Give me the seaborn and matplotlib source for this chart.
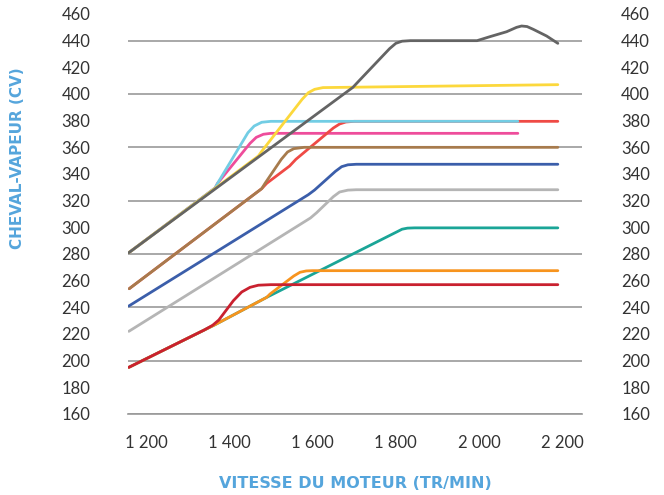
import matplotlib
matplotlib.use("Agg")
import matplotlib.pyplot as plt
import seaborn as sns

# courbes de puissance (tr/min -> ch)
rpm_dark_gray = [1159, 1697, 1712, 1785, 1800, 1815, 1835, 1995, 2026, 2066, 2090, 2102, 2115, 2130, 2162, 2189]
hp_dark_gray = [281, 405, 410, 434, 438, 439.6, 440, 440, 443, 446.7, 450, 451, 450.6, 448.5, 443.5, 438]

rpm_yellow = [1159, 1470, 1478, 1575, 1590, 1605, 1625, 2189]
hp_yellow = [281, 353.5, 357, 396, 401, 403.5, 404.8, 407]

rpm_cyan = [1159, 1366, 1372, 1445, 1460, 1478, 1500, 2093]
hp_cyan = [281, 329.5, 333, 371, 376, 378.8, 379.5, 379.5]

rpm_pink = [1159, 1366, 1372, 1450, 1465, 1482, 1500, 2093]
hp_pink = [281, 329.5, 333, 363, 367.5, 369.8, 370.5, 370.5]

rpm_red = [1160, 1478, 1490, 1545, 1560, 1650, 1665, 1680, 1700, 2189]
hp_red = [254, 329, 333, 346, 351, 374.5, 377.5, 379, 379.5, 379.5]

rpm_brown = [1160, 1478, 1486, 1525, 1540, 1555, 1580, 2189]
hp_brown = [254, 329, 333, 351, 356.5, 359, 360, 360]

rpm_blue = [1159, 1590, 1605, 1655, 1670, 1685, 1705, 2189]
hp_blue = [241, 324.5, 328, 342, 345.5, 346.9, 347.3, 347.3]

rpm_light_gray = [1159, 1595, 1610, 1650, 1665, 1685, 1705, 2189]
hp_light_gray = [222, 307, 311, 323, 326.5, 327.9, 328.2, 328.2]

rpm_teal = [1159, 1366, 1490, 1805, 1815, 1828, 1845, 2189]
hp_teal = [195, 227, 247.5, 297, 298.6, 299.4, 299.6, 299.6]

rpm_orange = [1159, 1366, 1490, 1498, 1555, 1570, 1585, 1600, 2189]
hp_orange = [195, 227, 247.5, 250, 263.5, 266.3, 267.3, 267.5, 267.5]

rpm_dark_red = [1159, 1340, 1360, 1375, 1410, 1430, 1450, 1470, 1500, 2189]
hp_dark_red = [195, 223, 226.5, 230.5, 245, 251.5, 255, 256.6, 257, 257]

x_ticks = [1200, 1400, 1600, 1800, 2000, 2200]
x_labels = ["1 200", "1 400", "1 600", "1 800", "2 000", "2 200"]
x_marks = [1400, 1600, 1800, 2000]
y_ticks = list(range(160, 461, 20))
y_grid = list(range(160, 441, 40))

# ordre de dessin : du dessous vers le dessus
curves = [
    (rpm_pink, hp_pink, "#ee4d9b"),
    (rpm_red, hp_red, "#ef4a45"),
    (rpm_cyan, hp_cyan, "#72cde4"),
    (rpm_yellow, hp_yellow, "#fcd83c"),
    (rpm_brown, hp_brown, "#a77b4d"),
    (rpm_dark_gray, hp_dark_gray, "#646464"),
    (rpm_blue, hp_blue, "#3b5eaa"),
    (rpm_light_gray, hp_light_gray, "#b5b5b5"),
    (rpm_teal, hp_teal, "#1aa597"),
    (rpm_orange, hp_orange, "#f7941e"),
    (rpm_dark_red, hp_dark_red, "#c9212f"),
]

sns.set_style("white")
plt.rcParams["font.family"] = ["Lato", "DejaVu Sans"]

fig = plt.figure(figsize=(6.64, 4.95), dpi=100)
ax = fig.add_axes([128 / 664, 1 - 414 / 495, 454 / 664, 400 / 495])

for xs, ys, col in curves:
    sns.lineplot(x=xs, y=ys, color=col, linewidth=2.0, sort=False, ax=ax)

ax.set_xlim(1157, 2247)
ax.set_ylim(160, 460)

ax.set_xticks(x_ticks)
ax.set_xticklabels(x_labels)
ax.set_xticks(x_marks, minor=True)
ax.tick_params(axis="x", which="major", length=0, pad=15, labelsize=12, labelcolor="#333333")
ax.tick_params(axis="x", which="minor", length=6.5, width=1, color="#999999")

ax.set_yticks(y_ticks)
ax.set_yticks(y_grid, minor=True)
ax.yaxis.remove_overlapping_locs = False
ax.tick_params(axis="y", which="both", length=0)
ax.tick_params(axis="y", which="major", pad=27, labelsize=12, labelcolor="#333333")
ax.grid(False)
ax.yaxis.grid(True, which="minor", color="#999999", linewidth=1.2)
ax.set_axisbelow(True)

# graduations de droite, alignées à droite
ax2 = ax.twinx()
ax2.set_ylim(160, 460)
ax2.set_yticks(y_ticks)
ax2.tick_params(axis="y", length=0, pad=49, labelsize=12, labelcolor="#333333")
for lab in ax2.get_yticklabels():
    lab.set_horizontalalignment("right")
ax2.grid(False)

for a in (ax, ax2):
    for side in ["top", "left", "right"]:
        a.spines[side].set_visible(False)
ax.spines["bottom"].set_color("#999999")
ax.spines["bottom"].set_linewidth(1.2)
ax2.spines["bottom"].set_visible(False)

blue = "#55a5dc"
fig.text(355 / 664, 1 - 483 / 495, "VITESSE DU MOTEUR (TR/MIN)", ha="center", va="center",
         fontsize=11.5, fontweight="bold", color=blue, family="DejaVu Sans")
fig.text(18 / 664, 1 - 158 / 495, "CHEVAL-VAPEUR (CV)", ha="center", va="center", rotation=90,
         fontsize=11, fontweight="bold", color=blue, family="DejaVu Sans")

fig.savefig("out.png", dpi=100)
